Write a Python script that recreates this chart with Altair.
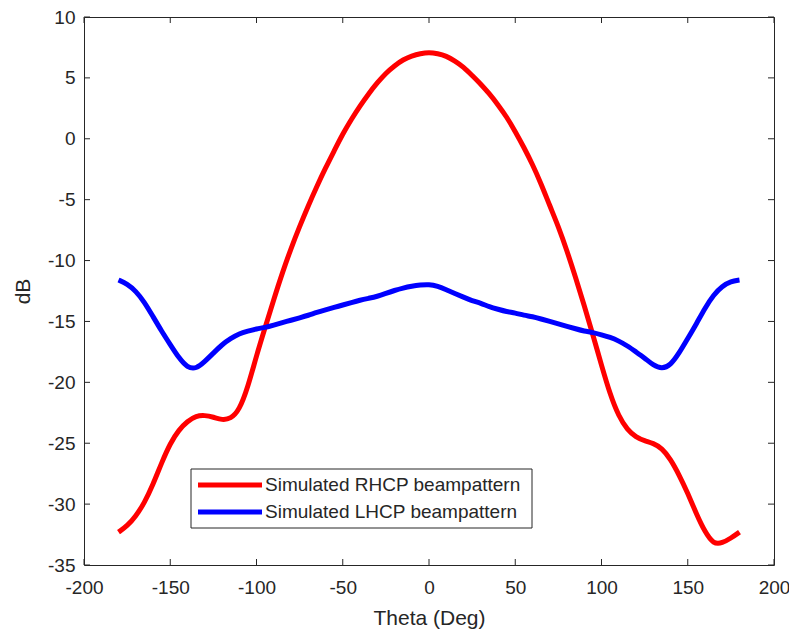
import altair as alt
import pandas as pd

# ---- data ----
series_names = ["Simulated RHCP beampattern", "Simulated LHCP beampattern"]
series_colors = ["#FF0000", "#0000FF"]

theta_rhcp = list(range(-180, 181, 5))
db_rhcp = [
    -32.3, -31.8, -31.0, -29.9, -28.4, -26.6, -25.0, -23.9, -23.2, -22.75,
    -22.7, -22.85, -23.1, -23.0, -22.3, -20.4, -17.8, -15.5, -13.2, -11.0,
    -9.0, -7.2, -5.5, -3.9, -2.4, -1.0, 0.4, 1.6, 2.7, 3.7,
    4.6, 5.4, 6.0, 6.5, 6.8, 7.0, 7.1, 7.0, 6.8, 6.4,
    5.9, 5.2, 4.5, 3.7, 2.8, 1.8, 0.6, -0.7, -2.1, -3.7,
    -5.5, -7.2, -9.2, -11.4, -13.7, -16.1, -18.6, -21.0, -22.8, -23.9,
    -24.5, -24.8, -25.0, -25.4, -26.3, -27.6, -29.1, -30.8, -32.3, -33.3,
    -33.2, -32.8, -32.3,
]

theta_lhcp = list(range(-180, 181, 5))
db_lhcp = [
    -11.6, -11.9, -12.5, -13.4, -14.6, -15.8, -16.9, -18.0, -18.8, -18.9,
    -18.3, -17.6, -16.9, -16.4, -16.0, -15.8, -15.6, -15.5, -15.3, -15.1,
    -14.9, -14.7, -14.5, -14.25, -14.05, -13.85, -13.65, -13.45, -13.25, -13.1,
    -12.95, -12.7, -12.45, -12.25, -12.1, -12.0, -11.95, -12.1, -12.4, -12.7,
    -13.0, -13.3, -13.5, -13.8, -14.0, -14.2, -14.3, -14.5, -14.6, -14.8,
    -15.0, -15.2, -15.4, -15.6, -15.8, -15.9, -16.1, -16.3, -16.6, -17.0,
    -17.5, -18.0, -18.6, -18.9, -18.6, -17.6, -16.4, -15.2, -13.9, -12.8,
    -12.1, -11.7, -11.6,
]

x_ticks = [-200, -150, -100, -50, 0, 50, 100, 150, 200]
y_ticks = [-35, -30, -25, -20, -15, -10, -5, 0, 5, 10]

# ---- tables ----
df = pd.concat([
    pd.DataFrame({"theta": theta_rhcp, "dB": db_rhcp, "series": series_names[0], "order": 0}),
    pd.DataFrame({"theta": theta_lhcp, "dB": db_lhcp, "series": series_names[1], "order": 1}),
])
xt = pd.DataFrame({"t": x_ticks})
yt = pd.DataFrame({"t": y_ticks})
one = pd.DataFrame({"k": [0]})

W, H = 690, 548
FONT = "Liberation Sans"
INK = "#262626"

xscale = alt.Scale(domain=[-200, 200], nice=False, zero=False)
yscale = alt.Scale(domain=[-35, 10], nice=False, zero=False)

lines = alt.Chart(df).mark_line(strokeWidth=5, interpolate="basis").encode(
    x=alt.X("theta:Q", scale=xscale,
            axis=alt.Axis(values=x_ticks, ticks=False, domain=False, grid=False,
                          labelExpr="toString(datum.value)",
                          labelFont=FONT, labelFontSize=19, labelColor=INK,
                          labelPadding=13, labelFlush=False, labelOverlap=False,
                          title="Theta (Deg)", titleFont=FONT, titleFontSize=21,
                          titleFontWeight="normal", titleColor=INK, titlePadding=10)),
    y=alt.Y("dB:Q", scale=yscale,
            axis=alt.Axis(values=y_ticks, ticks=False, domain=False, grid=False,
                          labelExpr="toString(datum.value)",
                          labelFont=FONT, labelFontSize=19, labelColor=INK,
                          labelPadding=9, labelFlush=False, labelOverlap=False,
                          title="dB", titleFont=FONT, titleFontSize=21,
                          titleFontWeight="normal", titleColor=INK, titlePadding=14)),
    color=alt.Color("series:N", scale=alt.Scale(domain=series_names, range=series_colors), legend=None),
    order="order:Q",
)

# inward ticks on all four sides (MATLAB box style)
tick_len = 6
xt_bottom = alt.Chart(xt).mark_rule(color=INK, strokeWidth=1).encode(
    x=alt.X("t:Q", scale=xscale), y=alt.value(H), y2=alt.value(H - tick_len))
xt_top = alt.Chart(xt).mark_rule(color=INK, strokeWidth=1).encode(
    x=alt.X("t:Q", scale=xscale), y=alt.value(0), y2=alt.value(tick_len))
yt_left = alt.Chart(yt).mark_rule(color=INK, strokeWidth=1).encode(
    y=alt.Y("t:Q", scale=yscale), x=alt.value(0), x2=alt.value(tick_len))
yt_right = alt.Chart(yt).mark_rule(color=INK, strokeWidth=1).encode(
    y=alt.Y("t:Q", scale=yscale), x=alt.value(W), x2=alt.value(W - tick_len))

# legend box (drawn manually to match MATLAB style)
LX, LY, LW, LH = 107, 452, 341, 59
legend_box = alt.Chart(one).mark_rect(fill="white", stroke=INK, strokeWidth=1).encode(
    x=alt.value(LX), x2=alt.value(LX + LW), y=alt.value(LY), y2=alt.value(LY + LH))
legend_layers = [legend_box]
row_y = [LY + 16, LY + 43]
for name, col, ry in zip(series_names, series_colors, row_y):
    legend_layers.append(
        alt.Chart(one).mark_rule(color=col, strokeWidth=5).encode(
            x=alt.value(LX + 7), x2=alt.value(LX + 71), y=alt.value(ry)))
    legend_layers.append(
        alt.Chart(one).mark_text(align="left", baseline="middle", font=FONT,
                                 fontSize=19, color=INK).encode(
            x=alt.value(LX + 74), y=alt.value(ry), text=alt.value(name)))

chart = alt.layer(lines, xt_bottom, xt_top, yt_left, yt_right, *legend_layers).properties(
    width=W, height=H,
    autosize=alt.AutoSizeParams(type="none"),
    padding={"left": 76, "top": 9, "right": 15, "bottom": 64},
    background="white",
).configure_view(stroke=INK, strokeWidth=1)

chart.save("out.html", embed_options={"renderer": "svg", "actions": False})
